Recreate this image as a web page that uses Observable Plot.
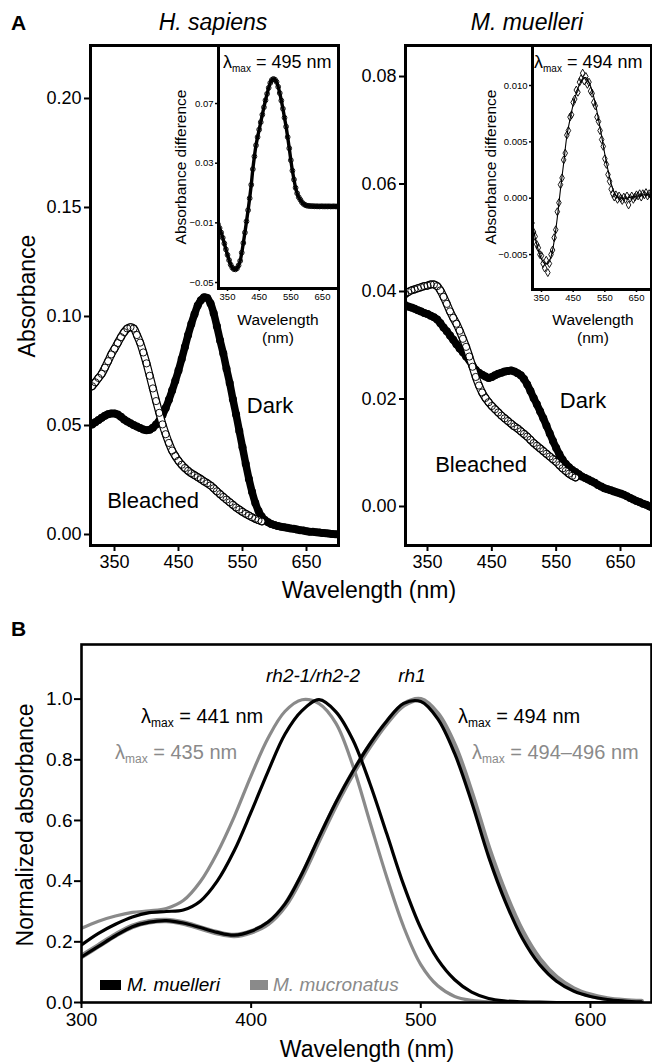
<!DOCTYPE html>
<html><head><meta charset="utf-8">
<script src="https://cdn.jsdelivr.net/npm/d3@7"></script>
<script src="https://cdn.jsdelivr.net/npm/@observablehq/plot@0.6"></script>
<style>
body{margin:0;background:#fff;}
#root{position:relative;width:652px;height:1064px;overflow:hidden;background:#fff;}
#root svg{position:absolute;}
</style></head><body><div id="root"></div>
<script>
const FONT = '"Liberation Sans", Arial, Helvetica, sans-serif';
const GRAY = "#8a8a8a";

// ---------- Panel A: absorbance spectra (sampled every 5 nm) ----------
const aWave = d3.range(315, 701, 5);          // 315 … 700 nm
const bleachWave = d3.range(315, 581, 5);     // 315 … 580 nm
const diffWave = d3.range(320, 701, 5);       // 320 … 700 nm
const fitWave = d3.range(320, 701, 10);       // 320 … 700 nm

const hsDark = [.0505,.0515,.0525,.0535,.0545,.0552,.0555,.0555,.0550,.0540,
  .0528,.0518,.0510,.0502,.0495,.0488,.0482,.0478,.0480,.0490,
  .0505,.0522,.0548,.0580,.0618,.0660,.0705,.0752,.0805,.0860,
  .0915,.0965,.1010,.1050,.1075,.1088,.1085,.1060,.1015,.0955,
  .0890,.0830,.0760,.0695,.0620,.0550,.0475,.0400,.0325,.0255,
  .0195,.0145,.0108,.0082,.0066,.0056,.0048,.0043,.0039,.0036,
  .0033,.0031,.0028,.0026,.0023,.0020,.0018,.0015,.0013,.0012,
  .0010,.0009,.0007,.0006,.0004,.0002,.0001,.0000];
const hsBleached = [.0680,.0698,.0718,.0737,.0765,.0795,.0826,.0852,.0878,.0905,
  .0928,.0945,.0951,.0945,.0915,.0880,.0835,.0785,.0728,.0670,
  .0612,.0558,.0505,.0460,.0420,.0385,.0360,.0338,.0320,.0305,
  .0292,.0281,.0272,.0263,.0254,.0244,.0235,.0225,.0212,.0198,
  .0185,.0172,.0160,.0148,.0136,.0124,.0114,.0104,.0095,.0087,
  .0079,.0072,.0066,.0060];
const mmDark = [.0375,.0372,.0370,.0368,.0365,.0363,.0360,.0358,.0355,.0352,
  .0348,.0341,.0333,.0326,.0318,.0310,.0302,.0294,.0287,.0279,
  .0272,.0262,.0254,.0249,.0245,.0242,.0239,.0241,.0244,.0247,
  .0249,.0251,.0252,.0253,.0251,.0248,.0244,.0237,.0227,.0215,
  .0202,.0190,.0177,.0164,.0150,.0136,.0122,.0109,.0097,.0087,
  .0079,.0073,.0068,.0064,.0060,.0056,.0053,.0050,.0047,.0044,
  .0040,.0037,.0034,.0032,.0030,.0028,.0026,.0024,.0022,.0019,
  .0016,.0013,.0010,.0008,.0005,.0003,.0000,-.0002];
const mmBleached = [.0395,.0399,.0402,.0404,.0406,.0408,.0410,.0411,.0413,.0413,
  .0410,.0402,.0390,.0377,.0363,.0351,.0340,.0327,.0312,.0297,
  .0279,.0260,.0241,.0225,.0212,.0202,.0194,.0187,.0181,.0175,
  .0169,.0164,.0159,.0154,.0149,.0145,.0140,.0135,.0130,.0124,
  .0118,.0113,.0108,.0103,.0098,.0093,.0088,.0083,.0077,.0071,
  .0066,.0061,.0057,.0054];
// insets: dark − bleached difference spectra
const hsDiff = [-.0110,-.0135,-.0165,-.0200,-.0238,-.0278,-.0315,-.0350,-.0380,-.0400,
  -.0410,-.0412,-.0405,-.0385,-.0355,-.0300,-.0235,-.0165,-.0090,-.0015,
  .0065,.0155,.0260,.0345,.0420,.0475,.0525,.0575,.0625,.0675,
  .0722,.0765,.0805,.0838,.0858,.0865,.0860,.0845,.0812,.0770,
  .0720,.0665,.0605,.0545,.0475,.0400,.0320,.0250,.0190,.0135,
  .0098,.0072,.0055,.0038,.0027,.0020,.0016,.0014,.0013,.0012,
  .0012,.0011,.0011,.0011,.0010,.0011,.0011,.0010,.0011,.0010,
  .0011,.0010,.0010,.0011,.0010,.0010,.0010];
const mmDiff = [-.0022,-.0030,-.0034,-.0041,-.0044,-.0050,-.0051,-.0058,-.0062,-.0055,
  -.0066,-.0058,-.0050,-.0046,-.0035,-.0028,-.0012,
  -.0004,.0012,.0018,.0034,.0040,.0056,.0060,.0072,.0074,.0085,
  .0088,.0096,.0094,.0103,.0106,.0111,.0104,.0108,.0101,.0103,
  .0095,.0093,.0085,.0082,.0072,.0068,.0060,.0052,.0046,.0035,
  .0030,.0021,.0015,.0008,.0004,.0001,.0003,-.0001,.0002,.0000,
  -.0002,.0001,-.0001,.0002,-.0006,.0000,.0002,-.0001,.0001,.0003,
  .0002,.0004,.0001,.0004,.0003,.0005,.0002,.0004,.0003,.0003];
const mmFit = [-.0020,-.0035,-.0046,-.0054,-.0058,-.0058,-.0052,-.0038,-.0017,.0008,
  .0031,.0055,.0070,.0083,.0093,.0101,.0106,.0107,.0103,.0095,
  .0084,.0070,.0055,.0039,.0025,.0013,.0005,.0001,.0000,.0000,
  .0000,.0001,.0001,.0002,.0002,.0003,.0003,.0003,.0003];

// ---------- Panel B: normalized templates (every 10 nm) ----------
const bWave = d3.range(300, 631, 10);   // 300 … 630 nm
const muellRh2 = [.190,.228,.258,.282,.296,.300,.305,.334,.400,.500,
  .628,.762,.885,.962,.998,.958,.865,.722,.555,.386,
  .245,.142,.075,.034,.013,.005,.002,.001,0,0,0,0,0,0];
const mucrRh2 = [.245,.268,.285,.297,.302,.310,.336,.398,.493,.612,
  .748,.872,.960,.998,.985,.920,.780,.595,.412,.248,
  .125,.055,.020,.007,.002,.001,0,0,0,0,0,0,0,0];
const muellRh1 = [.150,.185,.220,.250,.265,.270,.262,.247,.231,.222,
  .235,.265,.325,.425,.545,.660,.762,.852,.928,.986,
  .992,.935,.820,.660,.480,.330,.210,.125,.070,.038,
  .020,.010,.005,.002];
const mucrRh1 = [.152,.187,.222,.251,.266,.270,.262,.246,.230,.221,
  .233,.261,.320,.418,.537,.653,.756,.846,.923,.982,
  .998,.950,.845,.688,.508,.356,.232,.142,.082,.045,
  .024,.012,.006,.003];

const aTicksX = [350, 450, 550, 650];
const hsTicksY = [0, 0.05, 0.10, 0.15, 0.20];
const mmTicksY = [0, 0.02, 0.04, 0.06, 0.08];
const hsInsetTicksY = [-0.05, -0.01, 0.03, 0.07];
const mmInsetTicksY = [-0.005, 0, 0.005, 0.010];
const bTicksX = [300, 400, 500, 600];
const bTicksY = [0, 0.2, 0.4, 0.6, 0.8, 1.0];

const zip = (w, v) => v.map((d, i) => ({w: w[i], v: d}));

const root = document.getElementById("root");
function place(svg, left, top) {
  svg.style.position = "absolute";
  svg.style.left = left + "px";
  svg.style.top = top + "px";
  svg.style.maxWidth = "none";
  root.appendChild(svg);
}
const baseStyle = (fs) => ({fontFamily: FONT, fontSize: fs, background: "transparent", color: "black", overflow: "visible"});

function darkMarks(data) {
  return [
    Plot.line(data, {x: "w", y: "v", stroke: "black", strokeWidth: 7.5, strokeLinecap: "round", curve: "catmull-rom", clip: true}),
    Plot.dot(data, {x: "w", y: "v", r: 4, fill: "black", clip: true})
  ];
}
function bleachMarks(data) {
  return [
    Plot.line(data, {x: "w", y: "v", stroke: "black", strokeWidth: 8, strokeLinecap: "round", curve: "catmull-rom", clip: true}),
    Plot.line(data, {x: "w", y: "v", stroke: "white", strokeWidth: 5.6, strokeLinecap: "round", curve: "catmull-rom", clip: true}),
    Plot.dot(data, {x: "w", y: "v", r: 3.6, fill: "none", stroke: "black", strokeWidth: 0.9, clip: true})
  ];
}

// Main A left
place(Plot.plot({
  width: 345, height: 600, marginLeft: 90, marginRight: 7, marginTop: 45, marginBottom: 55,
  x: {domain: [312.5, 700]}, y: {domain: [-0.00505, 0.2243]},
  style: baseStyle("18px"),
  marks: [
    ...darkMarks(zip(aWave, hsDark)),
    ...bleachMarks(zip(bleachWave, hsBleached)),
    Plot.axisX({ticks: aTicksX, tickSize: 6, tickPadding: 4, strokeWidth: 2, label: null}),
    Plot.axisY({ticks: hsTicksY, tickFormat: d3.format(".2f"), tickSize: 6, tickPadding: 3, strokeWidth: 2, label: null}),
    Plot.frame({stroke: "black", strokeWidth: 3})
  ]
}), 0, 0);

// Main A right
place(Plot.plot({
  width: 307, height: 600, marginLeft: 60, marginRight: 1, marginTop: 45, marginBottom: 55,
  x: {domain: [315.8, 698.2]}, y: {domain: [-0.00726, 0.08577]},
  style: baseStyle("18px"),
  marks: [
    ...darkMarks(zip(aWave, mmDark)),
    ...bleachMarks(zip(bleachWave, mmBleached)),
    Plot.axisX({ticks: aTicksX, tickSize: 6, tickPadding: 4, strokeWidth: 2, label: null}),
    Plot.axisY({ticks: mmTicksY, tickFormat: d3.format(".2f"), tickSize: 6, tickPadding: 3, strokeWidth: 2, label: null}),
    Plot.frame({stroke: "black", strokeWidth: 3})
  ]
}), 345, 0);

// Inset left
place(Plot.plot({
  width: 180, height: 300, marginLeft: 58, marginRight: 2, marginTop: 45, marginBottom: 12,
  x: {domain: [321.6, 700.5]}, y: {domain: [-0.054, 0.1089]},
  style: baseStyle("9.5px"),
  marks: [
    Plot.frame({fill: "white", stroke: null}),
    Plot.line(zip(diffWave, hsDiff), {x: "w", y: "v", stroke: "black", strokeWidth: 3.4, curve: "catmull-rom", clip: true}),
    Plot.dot(zip(diffWave, hsDiff), {x: "w", y: "v", r: 2.4, fill: "none", stroke: "black", strokeWidth: 0.9, clip: true}),
    Plot.axisX({ticks: aTicksX, tickSize: 3, tickPadding: 2, strokeWidth: 1.5, label: null}),
    Plot.axisY({ticks: hsInsetTicksY, tickFormat: d3.format(".2f"), tickSize: 3, tickPadding: 2, strokeWidth: 1.5, label: null}),
    Plot.frame({stroke: "black", strokeWidth: 3})
  ]
}), 160, 0);

// Inset right
place(Plot.plot({
  width: 177, height: 300, marginLeft: 57, marginRight: 1, marginTop: 45, marginBottom: 11,
  x: {domain: [321.6, 697.4]}, y: {domain: [-0.0081, 0.01355]},
  style: baseStyle("9.5px"),
  marks: [
    Plot.frame({fill: "white", stroke: null}),
    Plot.line(zip(fitWave, mmFit), {x: "w", y: "v", stroke: "black", strokeWidth: 1.1, curve: "catmull-rom", clip: true}),
    Plot.dot(zip(diffWave, mmDiff), {x: "w", y: "v", r: 2.4, symbol: "diamond", fill: "none", stroke: "black", strokeWidth: 0.9, clip: true}),
    Plot.axisX({ticks: aTicksX, tickSize: 3, tickPadding: 2, strokeWidth: 1.5, label: null}),
    Plot.axisY({ticks: mmInsetTicksY, tickFormat: d3.format(".3f"), tickSize: 3, tickPadding: 2, strokeWidth: 1.5, label: null}),
    Plot.frame({stroke: "black", strokeWidth: 3})
  ]
}), 475, 0);

// Panel B
place(Plot.plot({
  width: 652, height: 420, marginLeft: 81, marginRight: 1, marginTop: 24, marginBottom: 38,
  x: {domain: [300, 636]}, y: {domain: [0, 1.18]},
  style: baseStyle("19px"),
  marks: [
    Plot.line(zip(bWave, mucrRh1), {x: "w", y: "v", stroke: GRAY, strokeWidth: 5.5, curve: "catmull-rom", clip: true}),
    Plot.line(zip(bWave, mucrRh2), {x: "w", y: "v", stroke: GRAY, strokeWidth: 3.2, curve: "catmull-rom", clip: true}),
    Plot.line(zip(bWave, muellRh2), {x: "w", y: "v", stroke: "black", strokeWidth: 3.2, curve: "catmull-rom", clip: true}),
    Plot.line(zip(bWave, muellRh1), {x: "w", y: "v", stroke: "black", strokeWidth: 3.2, curve: "catmull-rom", clip: true}),
    Plot.axisX({ticks: bTicksX, tickSize: 6, tickPadding: 4, strokeWidth: 2, label: null}),
    Plot.axisY({ticks: bTicksY, tickFormat: d3.format(".1f"), tickSize: 7, tickPadding: 2, strokeWidth: 2, label: null}),
    Plot.frame({stroke: "black", strokeWidth: 2.6})
  ]
}), 0, 620);

// ---------- Text overlay ----------
const ov = d3.select(root).append("svg")
  .attr("width", 652).attr("height", 1064)
  .style("left", "0px").style("top", "0px").style("pointer-events", "none")
  .attr("font-family", FONT);

function txt(x, y, s, o = {}) {
  const t = ov.append("text").attr("x", x).attr("y", y).text(s)
    .attr("font-size", o.size || 22)
    .attr("text-anchor", o.anchor || "start")
    .attr("fill", o.color || "black");
  if (o.italic) t.attr("font-style", "italic");
  if (o.bold) t.attr("font-weight", "bold");
  return t;
}
function vtxt(x, y, s, size) {
  ov.append("text").attr("transform", `translate(${x},${y}) rotate(-90)`)
    .attr("text-anchor", "middle").attr("font-size", size).text(s);
}
function lam(x, y, rest, size, sub, color) {
  const t = ov.append("text").attr("x", x).attr("y", y).attr("font-size", size).attr("fill", color);
  t.append("tspan").text("λ");
  t.append("tspan").attr("font-size", sub).attr("dy", size * 0.22).text("max");
  t.append("tspan").attr("dy", -size * 0.22).text(rest);
}

txt(11, 30, "A", {size: 21, bold: true});
txt(213, 30, "H. sapiens", {size: 23, italic: true, anchor: "middle"});
txt(527, 30, "M. muelleri", {size: 23, italic: true, anchor: "middle"});
vtxt(35, 296, "Absorbance", 23);
txt(369, 598, "Wavelength (nm)", {size: 23, anchor: "middle"});
txt(270, 413, "Dark", {size: 22, anchor: "middle"});
txt(153, 508, "Bleached", {size: 22, anchor: "middle"});
txt(583, 408, "Dark", {size: 22, anchor: "middle"});
txt(481, 472, "Bleached", {size: 22, anchor: "middle"});

lam(223, 68, " = 495 nm", 18, 10, "black");
lam(534, 68, " = 494 nm", 18, 10, "black");
vtxt(186, 167, "Absorbance difference", 15.5);
vtxt(496, 167, "Absorbance difference", 15.5);
txt(278, 325, "Wavelength", {size: 15.5, anchor: "middle"});
txt(278, 343, "(nm)", {size: 15.5, anchor: "middle"});
txt(593, 325, "Wavelength", {size: 15.5, anchor: "middle"});
txt(593, 343, "(nm)", {size: 15.5, anchor: "middle"});

txt(11, 636, "B", {size: 21, bold: true});
txt(313, 682, "rh2-1/rh2-2", {size: 19, italic: true, anchor: "middle"});
txt(412, 682, "rh1", {size: 19, italic: true, anchor: "middle"});
lam(141, 723, " = 441 nm", 20, 12, "black");
lam(115, 759, " = 435 nm", 20, 12, GRAY);
lam(458, 723, " = 494 nm", 20, 12, "black");
lam(472, 759, " = 494–496 nm", 20, 12, GRAY);

ov.append("rect").attr("x", 100).attr("y", 980).attr("width", 21).attr("height", 10).attr("fill", "black");
txt(127, 991, "M. muelleri", {size: 19, italic: true});
ov.append("rect").attr("x", 250).attr("y", 980).attr("width", 18).attr("height", 10).attr("fill", GRAY);
txt(273, 991, "M. mucronatus", {size: 19, italic: true, color: GRAY});

vtxt(33, 825, "Normalized absorbance", 23);
txt(367, 1057, "Wavelength (nm)", {size: 23, anchor: "middle"});
</script></body></html>
